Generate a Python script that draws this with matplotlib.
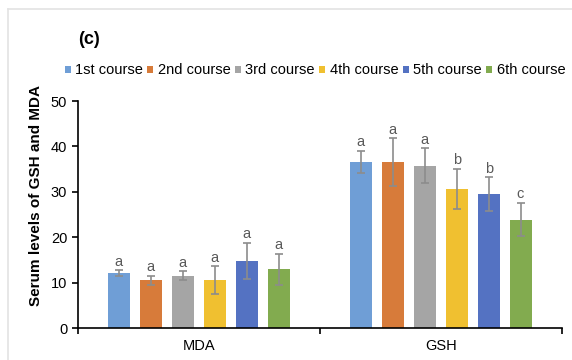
import numpy as np
import matplotlib.pyplot as plt
from matplotlib.lines import Line2D

plt.rcParams['font.family'] = ['Liberation Sans', 'DejaVu Sans']

# serum markers per treatment course
groups = ['MDA', 'GSH']
courses = ['1st course', '2nd course', '3rd course', '4th course', '5th course', '6th course']
colors = ['#6F9ED6', '#D77B3A', '#A5A5A5', '#F0C030', '#5472C2', '#82AB4F']

mda_mean = [12.1, 10.6, 11.6, 10.6, 14.8, 13.0]
mda_err = [0.7, 1.0, 1.0, 3.0, 4.0, 3.4]
gsh_mean = [36.6, 36.6, 35.8, 30.7, 29.6, 23.9]
gsh_err = [2.5, 5.2, 3.8, 4.4, 3.7, 3.7]
mda_sig = ['a', 'a', 'a', 'a', 'a', 'a']
gsh_sig = ['a', 'a', 'a', 'b', 'b', 'c']

means = np.array([mda_mean, gsh_mean])
errs = np.array([mda_err, gsh_err])
sigs = [mda_sig, gsh_sig]

fig = plt.figure(figsize=(5.72, 3.6), dpi=100)
ax = fig.add_axes([0.1358, 0.088, 0.8462, 0.6314])

x = np.arange(len(groups))
step = 0.132
width = 0.091
for i, c in enumerate(courses):
    pos = x + (i - 2.5) * step
    ax.bar(pos, means[:, i], width, color=colors[i], label=c, zorder=2)
    ax.errorbar(pos, means[:, i], yerr=errs[:, i], fmt='none', ecolor='#8c8c8c',
                elinewidth=1.2, capsize=3, capthick=1.2, zorder=3)
    for j in range(len(groups)):
        ax.text(pos[j], means[j, i] + errs[j, i] + 0.3, sigs[j][i], ha='center',
                va='bottom', fontsize=10.5, color='#595959')

ax.set_xlim(-0.5, 1.5)
ax.set_ylim(0, 50)
ax.set_yticks(range(0, 51, 10))
ax.set_xticks(x)
ax.set_xticklabels(groups, fontsize=10.5)
ax.set_xticks([-0.5, 0.5, 1.5], minor=True)
ax.tick_params(axis='x', which='major', length=0, pad=8)
ax.tick_params(axis='x', which='minor', length=4, width=1.2, direction='out')
ax.tick_params(axis='y', labelsize=10.5, length=4, width=1.2)
for s in ['top', 'right']:
    ax.spines[s].set_visible(False)
for s in ['left', 'bottom']:
    ax.spines[s].set_linewidth(1.2)

ax.set_ylabel('Serum levels of GSH and MDA', fontsize=11, fontweight='bold')
ax.yaxis.set_label_coords(-0.072, 0.584)

fig.text(78 / 572, 1 - 40 / 360, '(c)', fontsize=13, fontweight='bold', va='center', ha='left')

fig.legend(loc='center', bbox_to_anchor=(315 / 572, 1 - 70.5 / 360), ncol=6, frameon=False,
           fontsize=10.5, handlelength=0.42, handleheight=0.42, handletextpad=0.3,
           columnspacing=0.3, borderaxespad=0, borderpad=0)

# thin frame along the top and left of the chart area
fig.add_artist(Line2D([7.5 / 572, 1.0], [1 - 8.5 / 360] * 2, color='#e3e3e3', lw=1.2))
fig.add_artist(Line2D([7.5 / 572] * 2, [0.0, 1 - 8.5 / 360], color='#e3e3e3', lw=1.2))

fig.savefig('out.png', dpi=100)
